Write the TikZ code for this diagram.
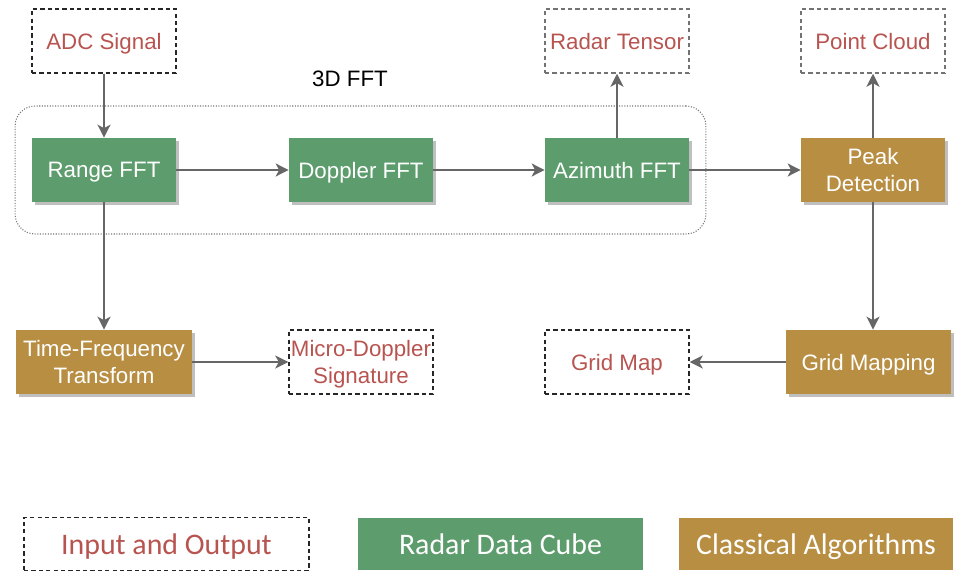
\documentclass[tikz,border=0pt]{standalone}
\usepackage{fontspec}
\setmainfont{Liberation Sans}
\newfontfamily\legendfont{Carlito}
\usepackage{xcolor}
\usetikzlibrary{arrows.meta,shadows}
\definecolor{cubegreen}{HTML}{5D9C6C}
\definecolor{algogold}{HTML}{B88E43}
\definecolor{iored}{HTML}{B85450}
\definecolor{linegrey}{HTML}{666666}
\tikzset{
    flow-box/.style = {rectangle, minimum width=2.88cm, minimum height=1.28cm, align=center, inner sep=1pt, text depth=0pt, font=\fontsize{12.7}{15.4}\selectfont},
    io-box/.style = {flow-box, draw=black!85, line width=0.85pt, dash pattern=on 2.4pt off 1.8pt, text=iored},
    io-box-light/.style = {io-box, draw=black!55},
    cube-box/.style = {flow-box, fill=cubegreen, text=white, drop shadow={shadow xshift=0.06cm, shadow yshift=-0.06cm, fill=black!25, opacity=1}},
    algo-box/.style = {flow-box, fill=algogold, text=white, drop shadow={shadow xshift=0.06cm, shadow yshift=-0.06cm, fill=black!25, opacity=1}},
    fft-frame/.style = {rectangle, draw=black!55, line width=0.6pt, dash pattern=on 0.6pt off 0.9pt, rounded corners=0.4cm},
    flow-arrow/.style = {draw=linegrey, line width=1pt, -{Stealth[length=0.26cm, width=0.26cm, inset=0.07cm]}},
    legend-box/.style = {rectangle, minimum width=5.7cm, minimum height=1.06cm, text depth=0pt, font=\legendfont\fontsize{17}{20}\selectfont},
}

\begin{document}
\begin{tikzpicture}[x=0.02cm, y=-0.02cm]
\useasboundingbox (0,0) rectangle (954,571);

% 3D FFT group
\node [fft-frame, minimum width=13.82cm, minimum height=2.56cm] (fft) at (360.5,170) {};
\node [font=\fontsize{12.7}{14.5}\selectfont] (fft-title) at (350,79) {3D FFT};

% inputs and outputs
\node [io-box] (adc) at (104,41) {ADC Signal};
\node [io-box-light] (tensor) at (617,41) {Radar Tensor};
\node [io-box-light] (cloud) at (873,41) {Point Cloud};
\node [io-box] (micro) at (361,362) {Micro-Doppler\\Signature};
\node [io-box] (gridmap) at (617,362) {Grid Map};

% radar data cube
\node [cube-box] (range) at (104,170) {Range FFT};
\node [cube-box] (doppler) at (361,170) {Doppler FFT};
\node [cube-box] (azimuth) at (617,170) {Azimuth FFT};

% classical algorithms
\node [algo-box] (peak) at (873,170) {Peak\\Detection};
\node [algo-box, minimum width=3.52cm] (tfreq) at (104,362) {Time-Frequency\\Transform};
\node [algo-box, minimum width=3.3cm] (mapping) at (868.5,362) {Grid Mapping};

\draw [flow-arrow] (adc) -- (range);
\draw [flow-arrow] (range) -- (doppler);
\draw [flow-arrow] (doppler) -- (azimuth);
\draw [flow-arrow] (azimuth) -- (tensor);
\draw [flow-arrow] (azimuth) -- (peak);
\draw [flow-arrow] (peak) -- (cloud);
\draw [flow-arrow] (peak.south) -- (peak.south |- mapping.north);
\draw [flow-arrow] (mapping) -- (gridmap);
\draw [flow-arrow] (range) -- (tfreq);
\draw [flow-arrow] (tfreq) -- (micro);

% legend
\node [legend-box, draw=black!85, line width=0.85pt, dash pattern=on 2.4pt off 1.8pt, text=iored] (leg-io) at (166.5,544) {Input and Output};
\node [legend-box, fill=cubegreen, text=white] (leg-cube) at (500.5,544) {Radar Data Cube};
\node [legend-box, fill=algogold, text=white, minimum width=5.5cm] (leg-algo) at (816,544) {Classical Algorithms};
\end{tikzpicture}
\end{document}
